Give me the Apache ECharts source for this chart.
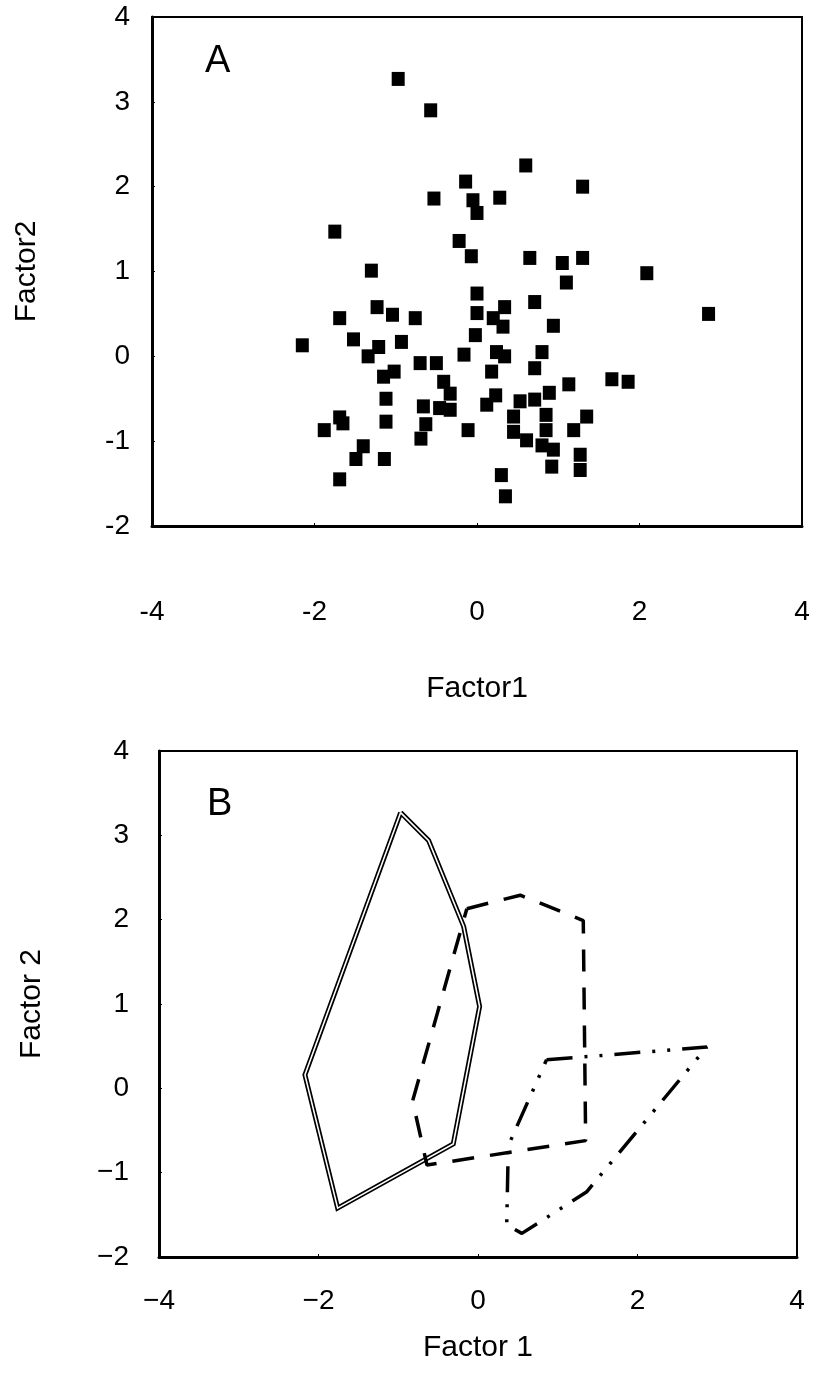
<!DOCTYPE html>
<html>
<head>
<meta charset="utf-8">
<script src="https://cdn.jsdelivr.net/npm/echarts/dist/echarts.min.js"></script>
<style>
  html, body { margin: 0; padding: 0; background: #fff; }
  #main { width: 817px; height: 1389px; }
</style>
</head>
<body>
<div id="main"></div>
<script>
// panel A: factor scores of every sample
var pointsA = [
  [-0.97, 3.27], [-0.57, 2.90], [-0.14, 2.06], [-0.53, 1.86], [-0.05, 1.84],
  [0.00, 1.69], [-1.75, 1.47], [-0.22, 1.36], [-0.07, 1.18], [-1.30, 1.01],
  [0.60, 2.25], [1.30, 2.00], [0.28, 1.87], [0.65, 1.16], [1.05, 1.10],
  [1.30, 1.16], [2.09, 0.98], [1.10, 0.87], [2.85, 0.50],
  [0.00, 0.74], [0.34, 0.58], [0.71, 0.64], [0.94, 0.36], [0.00, 0.51],
  [0.20, 0.45], [0.32, 0.35], [-0.02, 0.25], [0.24, 0.05], [0.34, 0.00],
  [0.80, 0.05], [0.71, -0.14], [0.18, -0.18], [1.13, -0.33], [1.66, -0.27],
  [1.86, -0.30], [0.89, -0.43], [0.23, -0.46], [0.12, -0.57],
  [0.53, -0.53], [0.71, -0.51], [0.85, -0.69], [0.85, -0.87], [0.45, -0.71],
  [0.45, -0.89], [0.61, -0.99], [0.80, -1.05], [0.94, -1.10], [0.92, -1.30],
  [1.19, -0.87], [1.35, -0.71], [1.27, -1.16], [1.27, -1.34], [0.30, -1.40],
  [0.35, -1.65],
  [-1.23, 0.58], [-1.04, 0.49], [-1.69, 0.45], [-0.76, 0.45], [-2.15, 0.13],
  [-1.52, 0.20], [-1.21, 0.11], [-1.34, 0.00], [-0.93, 0.17], [-0.70, -0.08],
  [-0.50, -0.08], [-0.16, 0.02], [-1.02, -0.18], [-1.15, -0.24], [-0.41, -0.30],
  [-0.33, -0.44], [-0.33, -0.63], [-0.46, -0.61], [-1.12, -0.50], [-0.66, -0.59],
  [-0.63, -0.80], [-0.69, -0.97], [-0.11, -0.87], [-1.69, -0.72], [-1.65, -0.79],
  [-1.88, -0.87], [-1.12, -0.77], [-1.40, -1.06], [-1.49, -1.21], [-1.14, -1.21],
  [-1.69, -1.45]
];

// panel B: outline of each group (closed polygons)
var hullDouble = [
  [-0.97, 3.27], [-0.62, 2.94], [-0.18, 1.92], [0.02, 0.97], [-0.31, -0.66],
  [-1.76, -1.42], [-2.17, 0.16], [-0.97, 3.27]
];
var hullDashed = [
  [-0.14, 2.13], [0.53, 2.29], [1.32, 1.99], [1.35, -0.62], [-0.64, -0.91],
  [-0.82, -0.15], [-0.14, 2.13]
];
var hullDashDot = [
  [0.86, 0.34], [1.42, 0.38], [2.87, 0.49], [1.36, -1.23], [0.55, -1.72],
  [0.36, -1.62], [0.38, -0.68], [0.86, 0.34]
];

var fontName = 'Liberation Sans, Arial, sans-serif';

var myChart = echarts.init(document.getElementById('main'));

function xAx(idx, name, minus) {
  return {
    gridIndex: idx, type: 'value', min: -4, max: 4, interval: 2,
    name: name, nameLocation: 'middle', nameGap: idx === 0 ? 148 : 76,
    nameTextStyle: { color: '#000', fontSize: 30, fontFamily: fontName },
    axisLine: { show: true, onZero: false, lineStyle: { color: '#000', width: 3 } },
    axisTick: { show: true, inside: true, length: 3, lineStyle: { color: '#000' } },
    axisLabel: {
      color: '#000', fontSize: 28, fontFamily: fontName, margin: idx === 0 ? 72 : 30,
      formatter: function (v) { return minus ? String(v).replace('-', '\u2212') : String(v); }
    },
    splitLine: { show: false }
  };
}
function yAx(idx, name, minus) {
  return {
    gridIndex: idx, type: 'value', min: -2, max: 4, interval: 1,
    name: name, nameLocation: 'middle', nameGap: idx === 0 ? 110 : 112,
    nameTextStyle: { color: '#000', fontSize: 30, fontFamily: fontName },
    axisLine: { show: true, onZero: false, lineStyle: { color: '#000', width: 3 } },
    axisTick: { show: true, inside: true, length: 3, lineStyle: { color: '#000' } },
    axisLabel: {
      color: '#000', fontSize: 28, fontFamily: fontName, margin: idx === 0 ? 22 : 30,
      formatter: function (v) { return minus ? String(v).replace('-', '\u2212') : String(v); }
    },
    splitLine: { show: false }
  };
}

myChart.setOption({
  animation: false,
  backgroundColor: '#fff',
  grid: [
    { left: 152, top: 17, width: 650, height: 509, show: true, borderColor: '#000', borderWidth: 2 },
    { left: 159, top: 751, width: 638, height: 506, show: true, borderColor: '#000', borderWidth: 2 }
  ],
  xAxis: [xAx(0, 'Factor1', false), xAx(1, 'Factor 1', true)],
  yAxis: [yAx(0, 'Factor2', false), yAx(1, 'Factor 2', true)],
  graphic: [
    { type: 'text', left: 205, top: 43, style: { text: 'A', fontSize: 38, fontFamily: fontName, fill: '#000' } },
    { type: 'text', left: 207, top: 786, style: { text: 'B', fontSize: 38, fontFamily: fontName, fill: '#000' } }
  ],
  series: [
    {
      type: 'scatter', xAxisIndex: 0, yAxisIndex: 0, data: pointsA,
      symbol: 'rect', symbolSize: [13, 14], itemStyle: { color: '#000', opacity: 1 }
    },
    {
      type: 'line', xAxisIndex: 1, yAxisIndex: 1, data: hullDouble, showSymbol: false,
      lineStyle: { color: '#000', width: 5, join: 'miter' }
    },
    {
      type: 'line', xAxisIndex: 1, yAxisIndex: 1, data: hullDouble, showSymbol: false,
      lineStyle: { color: '#fff', width: 1.6, join: 'miter' }
    },
    {
      type: 'line', xAxisIndex: 1, yAxisIndex: 1, data: hullDashed, showSymbol: false,
      lineStyle: { color: '#000', width: 3.5, type: [22, 16] }
    },
    {
      type: 'line', xAxisIndex: 1, yAxisIndex: 1, data: hullDashDot, showSymbol: false,
      lineStyle: { color: '#000', width: 3.5, type: [26, 12, 3, 12, 3, 12] }
    }
  ]
});
</script>
</body>
</html>
